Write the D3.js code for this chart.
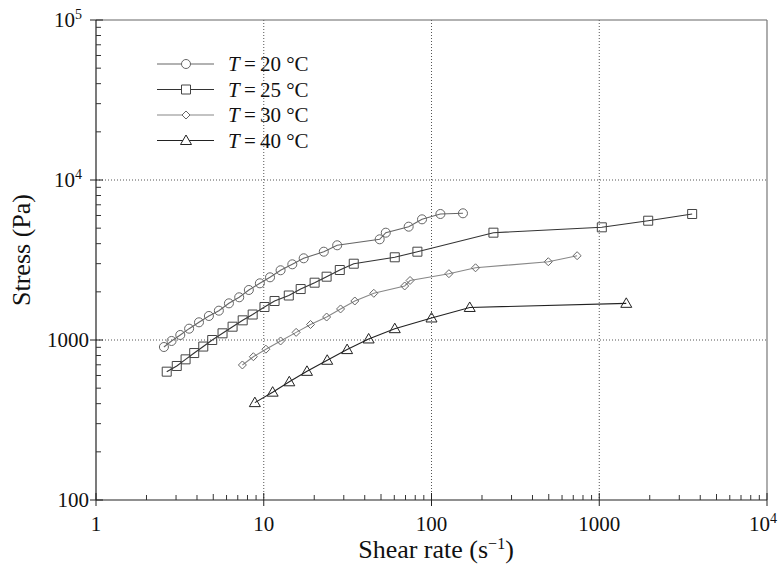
<!DOCTYPE html>
<html>
<head>
<meta charset="utf-8">
<script src="https://cdn.jsdelivr.net/npm/d3@7"></script>
<style>
  body { margin: 0; background: #fff; }
  svg text { font-family: "Liberation Serif", "DejaVu Serif", serif; }
</style>
</head>
<body>
<div id="chart"></div>
<script>
// data (shear rate in 1/s, stress in Pa)
const rateT20 = [2.54, 2.82, 3.18, 3.59, 4.11, 4.71, 5.40, 6.20, 7.14, 8.15, 9.48, 10.9, 12.6, 14.8, 17.3, 22.8, 27.4, 49.1, 53.4, 73.1, 87.8, 113, 154];
const stressT20 = [904, 986, 1075, 1177, 1290, 1413, 1525, 1695, 1849, 2054, 2261, 2465, 2728, 2972, 3241, 3564, 3908, 4259, 4685, 5108, 5678, 6131, 6193];

const rateT25 = [2.64, 3.03, 3.42, 3.85, 4.36, 4.93, 5.68, 6.52, 7.49, 8.59, 10.1, 11.6, 14.1, 16.6, 20.1, 23.7, 28.4, 34.4, 60.4, 82.4, 234, 1036, 1958, 3580];
const stressT25 = [634, 688, 757, 829, 910, 1000, 1101, 1211, 1327, 1443, 1608, 1753, 1897, 2082, 2281, 2487, 2738, 2998, 3288, 3564, 4685, 5061, 5566, 6131];

const rateT30 = [7.46, 8.67, 10.3, 12.6, 15.6, 19.0, 23.7, 28.7, 34.9, 45.3, 69.2, 74.5, 127, 183, 497, 738];
const stressT30 = [698, 786, 876, 986, 1116, 1250, 1392, 1563, 1753, 1958, 2176, 2354, 2597, 2827, 3085, 3364];

const rateT40 = [8.85, 11.3, 14.2, 18.1, 23.9, 31.4, 42.2, 60.4, 100, 169, 1449];
const stressT40 = [406, 472, 548, 637, 747, 871, 1015, 1177, 1373, 1597, 1695];

const seriesNames = ["20", "25", "30", "40"];
const xTickLabels = ["1", "10", "100", "1000", "10^4"];
const yTickLabels = ["100", "1000", "10^4", "10^5"];

const FONT = "'Liberation Serif', 'DejaVu Serif', serif";
const W = 780, H = 574;
const svg = d3.select("#chart").append("svg")
  .attr("width", W)
  .attr("height", H)
  .attr("font-family", FONT);

const x = d3.scaleLog().domain([1, 1e4]).range([96, 767]);
const y = d3.scaleLog().domain([100, 1e5]).range([500, 20]);

const majorX = [1, 10, 100, 1000, 10000];
const majorY = [100, 1000, 10000, 100000];
const minorX = [];
for (let d = 1; d < 1e4; d *= 10) for (let k = 2; k <= 9; k++) minorX.push(d * k);
const minorY = [];
for (let d = 100; d < 1e5; d *= 10) for (let k = 2; k <= 9; k++) minorY.push(d * k);

// dotted grid at inner decades
svg.append("g").selectAll("line")
  .data([10, 100, 1000])
  .enter().append("line")
  .attr("x1", d => x(d)).attr("x2", d => x(d))
  .attr("y1", y(1e5)).attr("y2", y(100))
  .attr("stroke", "#555").attr("stroke-width", 1)
  .attr("stroke-dasharray", "1,2");

svg.append("g").selectAll("line")
  .data([1000, 10000])
  .enter().append("line")
  .attr("x1", x(1)).attr("x2", x(1e4))
  .attr("y1", d => y(d)).attr("y2", d => y(d))
  .attr("stroke", "#555").attr("stroke-width", 1)
  .attr("stroke-dasharray", "1,2");

// frame: top and right are lighter
svg.append("line")
  .attr("x1", x(1)).attr("x2", x(1e4)).attr("y1", y(1e5)).attr("y2", y(1e5))
  .attr("stroke", "#666").attr("stroke-width", 1.2);
svg.append("line")
  .attr("x1", x(1e4)).attr("x2", x(1e4)).attr("y1", y(1e5)).attr("y2", y(100))
  .attr("stroke", "#777").attr("stroke-width", 1.2);

// x axis: minor ticks inward, majors cross the line
const xAxis = svg.append("g").attr("transform", `translate(0,${y(100)})`);
xAxis.append("line")
  .attr("x1", x(1)).attr("x2", x(1e4))
  .attr("stroke", "#222").attr("stroke-width", 1.2);
xAxis.selectAll("line.minor")
  .data(minorX).enter().append("line")
  .attr("class", "minor")
  .attr("x1", d => x(d)).attr("x2", d => x(d))
  .attr("y1", 0).attr("y2", d => (String(d)[0] === "5" ? -6 : -5))
  .attr("stroke", "#333");
xAxis.selectAll("line.major")
  .data(majorX).enter().append("line")
  .attr("class", "major")
  .attr("x1", d => x(d)).attr("x2", d => x(d))
  .attr("y1", -7).attr("y2", 6)
  .attr("stroke", "#222");

function supLabel(sel, s) {
  const parts = s.split("^");
  sel.append("tspan").text(parts[0]);
  if (parts[1]) sel.append("tspan").attr("dy", -8).attr("font-size", "14px").text(parts[1]);
}

xAxis.selectAll("text")
  .data(majorX).enter().append("text")
  .attr("x", (d, i) => x(d) - (i === 4 ? 4 : 0))
  .attr("y", 31)
  .attr("text-anchor", "middle")
  .attr("font-size", "21px")
  .attr("font-family", FONT)
  .attr("fill", "#111")
  .each(function(d, i) { supLabel(d3.select(this), xTickLabels[i]); });

// y axis
const yAxis = svg.append("g").attr("transform", `translate(${x(1)},0)`);
yAxis.append("line")
  .attr("y1", y(100)).attr("y2", y(1e5))
  .attr("stroke", "#222").attr("stroke-width", 1.2);
yAxis.selectAll("line.minor")
  .data(minorY).enter().append("line")
  .attr("class", "minor")
  .attr("y1", d => y(d)).attr("y2", d => y(d))
  .attr("x1", 0).attr("x2", 5)
  .attr("stroke", "#333");
yAxis.selectAll("line.major")
  .data(majorY).enter().append("line")
  .attr("class", "major")
  .attr("y1", d => y(d)).attr("y2", d => y(d))
  .attr("x1", -6).attr("x2", 7)
  .attr("stroke", "#222");
yAxis.selectAll("text")
  .data(majorY).enter().append("text")
  .attr("x", (d, i) => (i >= 2 ? -14 : -7))
  .attr("y", d => y(d) + 7)
  .attr("text-anchor", "end")
  .attr("font-size", "21px")
  .attr("font-family", FONT)
  .attr("fill", "#111")
  .each(function(d, i) {
    const sel = d3.select(this);
    const parts = yTickLabels[i].split("^");
    sel.append("tspan").text(parts[0]);
    if (parts[1]) {
      sel.append("tspan").attr("dy", -8).attr("font-size", "14px").text(parts[1]);
    }
  });

// axis titles
const xt = svg.append("text")
  .attr("x", 436).attr("y", 558)
  .attr("text-anchor", "middle")
  .attr("font-size", "26px")
  .attr("font-family", FONT)
  .attr("fill", "#111");
xt.append("tspan").text("Shear rate (s");
xt.append("tspan").attr("dy", -9).attr("font-size", "16px").text("\u22121");
xt.append("tspan").attr("dy", 9).text(")");

svg.append("text")
  .attr("transform", "translate(30,250) rotate(-90)")
  .attr("text-anchor", "middle")
  .attr("font-size", "26px")
  .attr("font-family", FONT)
  .attr("fill", "#111")
  .text("Stress (Pa)");

// series
const series = [
  { name: seriesNames[0], rate: rateT20, stress: stressT20, sym: "circle", line: "#666", mark: "#666" },
  { name: seriesNames[1], rate: rateT25, stress: stressT25, sym: "square", line: "#333", mark: "#444" },
  { name: seriesNames[2], rate: rateT30, stress: stressT30, sym: "diamond", line: "#888", mark: "#666" },
  { name: seriesNames[3], rate: rateT40, stress: stressT40, sym: "triangle", line: "#222", mark: "#222" }
];

function markerPath(sym) {
  if (sym === "circle") return d3.symbol(d3.symbolCircle, 64)();
  if (sym === "square") return d3.symbol(d3.symbolSquare, 81)();
  if (sym === "diamond") return "M0,-4L4,0L0,4L-4,0Z";
  return "M0,-5.5L5.5,4L-5.5,4Z";
}

const line = d3.line().x(d => x(d[0])).y(d => y(d[1]));

series.forEach(s => {
  const pts = s.rate.map((r, i) => [r, s.stress[i]]);
  svg.append("path")
    .datum(pts)
    .attr("d", line)
    .attr("fill", "none")
    .attr("stroke", s.line)
    .attr("stroke-width", 1.1);
  svg.append("g").selectAll("path")
    .data(pts).enter().append("path")
    .attr("transform", d => `translate(${x(d[0])},${y(d[1])})`)
    .attr("d", markerPath(s.sym))
    .attr("fill", "none")
    .attr("stroke", s.mark)
    .attr("stroke-width", 1);
});

// legend
const legend = svg.append("g");
series.forEach((s, i) => {
  const ly = 64 + i * 25.5;
  legend.append("line")
    .attr("x1", 157).attr("x2", 214).attr("y1", ly).attr("y2", ly)
    .attr("stroke", s.line).attr("stroke-width", 1.1);
  legend.append("path")
    .attr("transform", `translate(186,${ly})`)
    .attr("d", markerPath(s.sym))
    .attr("fill", "#fff")
    .attr("stroke", s.mark);
  const t = legend.append("text")
    .attr("x", 228).attr("y", ly + 7)
    .attr("font-size", "21px")
    .attr("font-family", FONT)
    .attr("fill", "#111");
  t.append("tspan").attr("font-style", "italic").text("T");
  t.append("tspan").text(`\u2009=\u2009${s.name} \u00b0C`);
});
</script>
</body>
</html>
